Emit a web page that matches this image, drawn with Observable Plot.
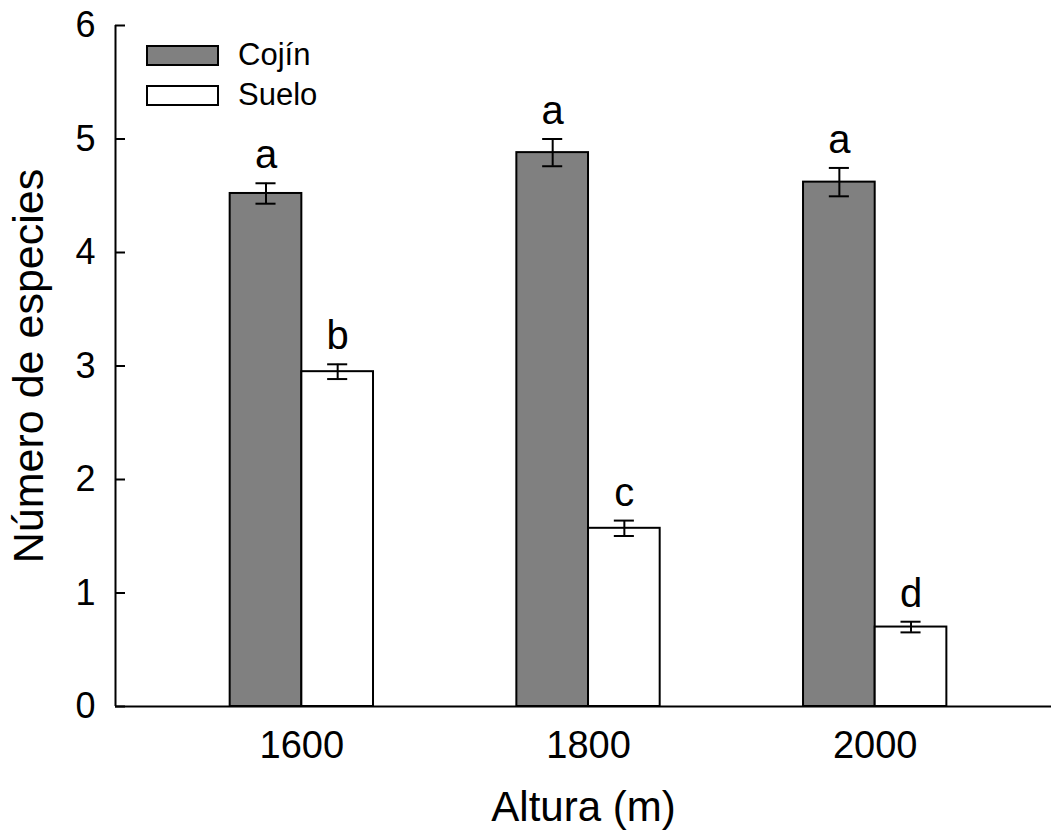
<!DOCTYPE html>
<html>
<head>
<meta charset="utf-8">
<script src="https://cdn.jsdelivr.net/npm/d3@7"></script>
<script src="https://cdn.jsdelivr.net/npm/@observablehq/plot@0.6"></script>
<style>
  body { margin: 0; background: #fff; }
  #chart { position: relative; width: 1051px; height: 830px; font-family: "Liberation Sans", Arial, sans-serif; }
  .legend { position: absolute; left: 146px; top: 35px; font-size: 31px; color: #000; }
  .legend .row { display: flex; align-items: center; height: 40px; }
  .legend .sw { width: 69px; height: 17px; border: 2px solid #000; margin-right: 19px; box-sizing: content-box; }
</style>
</head>
<body>
<div id="chart"></div>
<script>
// Species richness by altitude, cushion vs bare soil
const altitudes = [1600, 1800, 2000];
const cojinMean = [4.52, 4.88, 4.62];
const cojinSE = [0.09, 0.12, 0.125];
const sueloMean = [2.95, 1.57, 0.70];
const sueloSE = [0.065, 0.068, 0.047];
const cojinLetters = ["a", "a", "a"];
const sueloLetters = ["b", "c", "d"];
const yTicks = [0, 1, 2, 3, 4, 5, 6];

const barWidth = 50;   // in metres of altitude
const capHalf = 7;     // half-width of error-bar caps, metres
const xMin = 1470;

const rows = [];
altitudes.forEach((alt, i) => {
  rows.push({group: "Cojín", x1: alt - barWidth, x2: alt, xc: alt - barWidth / 2,
             mean: cojinMean[i], se: cojinSE[i], letter: cojinLetters[i]});
  rows.push({group: "Suelo", x1: alt, x2: alt + barWidth, xc: alt + barWidth / 2,
             mean: sueloMean[i], se: sueloSE[i], letter: sueloLetters[i]});
});

const fills = {"Cojín": "#808080", "Suelo": "#ffffff"};

const chart = Plot.plot({
  width: 1051,
  height: 830,
  marginTop: 25,
  marginBottom: 124,
  marginLeft: 115,
  marginRight: 0,
  style: {fontFamily: "\"Liberation Sans\", Arial, sans-serif", background: "#fff", color: "#000"},
  x: {domain: [xMin, 2123], label: null},
  y: {domain: [0, 6], label: null},
  marks: [
    Plot.rectY(rows, {x1: "x1", x2: "x2", y1: 0, y2: "mean",
      fill: d => fills[d.group], stroke: "#000", strokeWidth: 2}),
    // error bars
    Plot.ruleX(rows, {x: "xc", y1: d => d.mean - d.se, y2: d => d.mean + d.se, stroke: "#000", strokeWidth: 2}),
    Plot.ruleY(rows, {y: d => d.mean + d.se, x1: d => d.xc - capHalf, x2: d => d.xc + capHalf, stroke: "#000", strokeWidth: 2}),
    Plot.ruleY(rows, {y: d => d.mean - d.se, x1: d => d.xc - capHalf, x2: d => d.xc + capHalf, stroke: "#000", strokeWidth: 2}),
    // significance letters
    Plot.text(rows, {x: "xc", y: d => d.mean + d.se, text: "letter", lineAnchor: "bottom", dy: -15, fontSize: 40, fill: "#000"}),
    // axes
    Plot.ruleY([0], {stroke: "#000", strokeWidth: 2}),
    Plot.ruleX([xMin], {y1: 0, y2: 6, stroke: "#000", strokeWidth: 2}),
    Plot.axisY({ticks: yTicks, tickSize: -10, tickPadding: 30, strokeWidth: 2, fontSize: 36, label: null, tickFormat: d3.format("d")}),
    Plot.axisX({ticks: altitudes, tickSize: 0, tickPadding: 25, fontSize: 38, label: null, tickFormat: d => String(d)}),
    Plot.text(["Altura (m)"], {frameAnchor: "bottom", lineAnchor: "bottom", dy: 114, fontSize: 42, fill: "#000"}),
    Plot.text(["Número de especies"], {frameAnchor: "left", textAnchor: "middle", rotate: -90, lineAnchor: "bottom", dx: -73, fontSize: 43, fill: "#000"})
  ]
});

const root = document.getElementById("chart");
root.appendChild(chart);

// legend
const legend = document.createElement("div");
legend.className = "legend";
for (const g of ["Cojín", "Suelo"]) {
  const row = document.createElement("div");
  row.className = "row";
  const sw = document.createElement("span");
  sw.className = "sw";
  sw.style.background = fills[g];
  const label = document.createElement("span");
  label.textContent = g;
  row.appendChild(sw);
  row.appendChild(label);
  legend.appendChild(row);
}
root.appendChild(legend);
</script>
</body>
</html>
